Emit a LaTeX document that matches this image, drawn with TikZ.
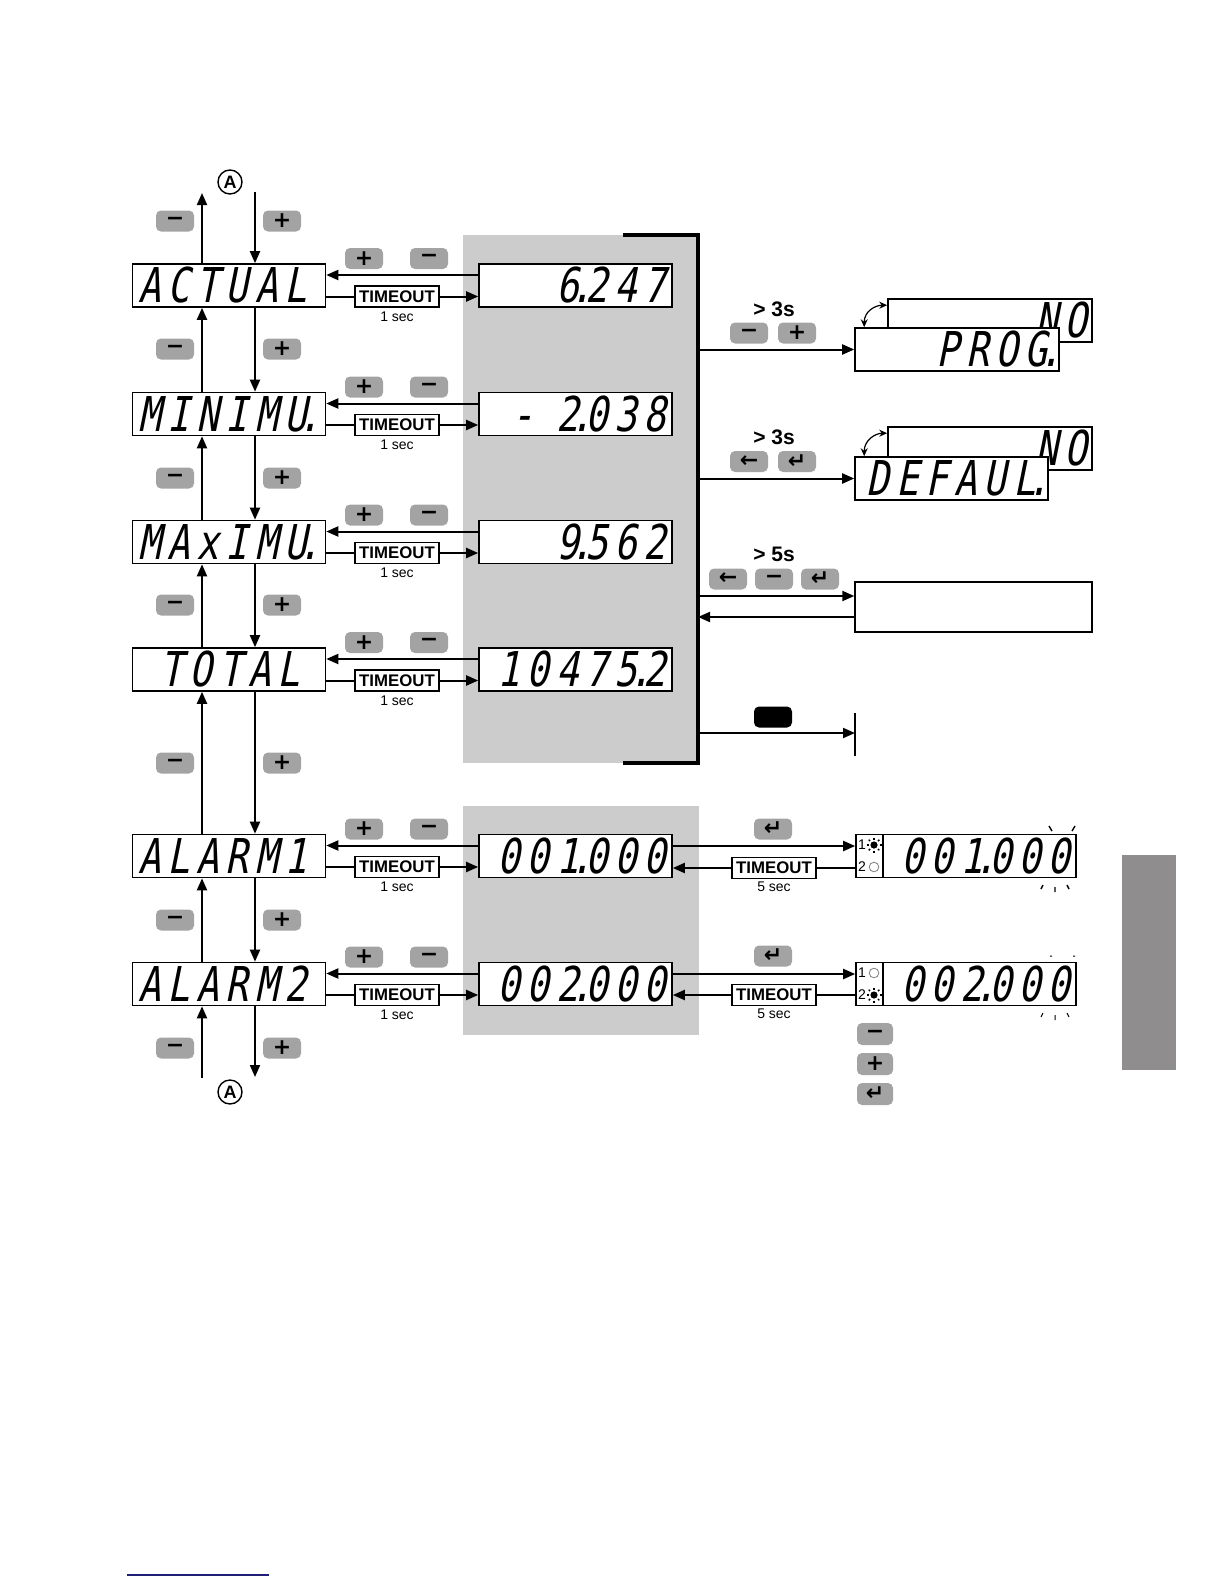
\documentclass[tikz,border=0pt]{standalone}
\usepackage{fontspec}
\setmainfont{Liberation Sans}
\newfontfamily\segfont[FakeSlant=0.2,FakeStretch=0.78,LetterSpace=14]{DejaVu Sans Mono}
\newfontfamily\keyfont{DejaVu Sans}
\usetikzlibrary{arrows.meta,calc,positioning}
\definecolor{panelgray}{RGB}{204,204,204}
\definecolor{keygray}{RGB}{163,163,163}
\definecolor{tabgray}{RGB}{143,141,142}
\definecolor{linkblue}{RGB}{30,30,120}
\newcommand{\sdot}{\makebox[3.4pt]{.}}

\begin{document}
\begin{tikzpicture}[x=0.5pt,y=-0.5pt,>={Triangle[length=6pt,width=5pt]},
  conn/.style={line width=1pt},
  disp/.style={draw,line width=0.8pt,fill=white,minimum width=96.5pt,minimum height=21.5pt,
    inner sep=0pt,font=\segfont\fontsize{24}{24}\selectfont},
  displeft/.style={disp,text width=91pt,align=left},
  dispright/.style={disp,text width=91pt,align=right},
  dispwide/.style={dispright,minimum width=102pt,text width=97pt},
  key/.style={fill=keygray,rounded corners=2.5pt,minimum width=19pt,minimum height=10.5pt,
    inner sep=0pt,font=\keyfont\bfseries\fontsize{11}{11}\selectfont},
  tmo/.style={draw,line width=0.7pt,fill=white,minimum width=42pt,minimum height=10.5pt,
    inner sep=0pt,font=\bfseries\fontsize{8.4}{8.4}\selectfont},
  secs/.style={font=\fontsize{7}{7}\selectfont,inner sep=0pt},
  hold/.style={font=\bfseries\fontsize{10.5}{10.5}\selectfont,inner sep=0pt},
  ledno/.style={font=\fontsize{7}{7}\selectfont,inner sep=0pt},
  circA/.style={draw,circle,line width=0.7pt,minimum size=12pt,inner sep=0pt,
    font=\bfseries\fontsize{9}{9}\selectfont}]
  \useasboundingbox (0,0) rectangle (1224,1584);

  % --- grey panels behind the value displays ---
  \fill[panelgray] (463,235) rectangle (698,763);
  \fill[panelgray] (463,806) rectangle (699,1035);
  \draw[line width=1.6pt] (623,235) -- (698,235) -- (698,763) -- (623,763);
  \coordinate (bar) at (698,0);
  \coordinate (upx) at (202,0);
  \coordinate (dnx) at (255,0);

  % --- one row per menu entry: name display, value display, timeout ---
  \foreach \nm/\y/\lt/\vt in {act/285.5/ACTUAL/{6\sdot247},
      min/414/{MINIMU\sdot}/{-\phantom{0}2\sdot038},
      max/542/{MAxIMU\sdot}/{9\sdot562},
      tot/669.5/{\phantom{0}TOTAL}/{10475\sdot2},
      al1/856/ALARM1/{001\sdot000},
      al2/984/ALARM2/{002\sdot000}} {
    \node[displeft] (L\nm) at (229,\y) {\lt};
    \node[dispright] (V\nm) at (575.5,\y) {\vt};
    \node[key] (P\nm) at (364,\y-27) {+};
    \node[key] (M\nm) at (429,\y-27) {−};
    \draw[conn,->] ($(V\nm.west)+(0,-10.5)$) -- ($(L\nm.east)+(0,-10.5)$);
    \node[tmo] (T\nm) at (397,\y+11) {TIMEOUT};
    \node[secs] (S\nm) at (397,\y+31) {1 sec};
    \draw[conn] ($(L\nm.east)+(0,11)$) -- (T\nm.west);
    \draw[conn,->] (T\nm.east) -- (T\nm.east -| V\nm.west);
  }

  % --- stepping up and down the list ---
  \foreach \a/\b/\m in {act/min/349,min/max/478,max/tot/605,tot/al1/763,al1/al2/920} {
    \draw[conn,->] (L\b.north -| upx) -- (L\a.south -| upx);
    \draw[conn,->] (L\a.south -| dnx) -- (L\b.north -| dnx);
    \node[key] (km\a) at (175,\m) {−};
    \node[key] (kp\a) at (282,\m) {+};
  }
  \node[circA] (Atop) at (230,182) {A};
  \coordinate (topup) at (202,193);
  \coordinate (topdn) at (255,192);
  \draw[conn,->] (Lact.north -| upx) -- (topup);
  \draw[conn,->] (topdn) -- (Lact.north -| dnx);
  \node[key] (kmtop) at (175,221) {−};
  \node[key] (kptop) at (282,221) {+};
  \node[circA] (Abot) at (230,1092) {A};
  \coordinate (botup) at (202,1078);
  \coordinate (botdn) at (255,1077);
  \draw[conn,->] (botup) -- (Lal2.south -| upx);
  \draw[conn,->] (Lal2.south -| dnx) -- (botdn);
  \node[key] (kmbot) at (175,1048) {−};
  \node[key] (kpbot) at (282,1048) {+};

  % --- programming entry ---
  \node[dispwide] (no1) at (990,320.5) {NO};
  \node[dispwide] (prog) at (957,349.5) {PROG\sdot};
  \draw[conn,->] (bar |- prog.west) -- (prog.west);
  \draw[<->,line width=0.6pt,>={Stealth[length=4pt,width=3.5pt]}]
    ($(prog.north west)+(10,0)$) .. controls +(0,-16) and +(-12,0) .. ($(no1.north west)+(0,7)$);
  \node[hold] (h3a) at (774,309) {> 3s};
  \node[key] (kpm) at (749,333) {−};
  \node[key] (kpp) at (797,333) {+};

  % --- factory defaults ---
  \node[dispwide] (no2) at (990,448.5) {NO};
  \node[dispright] (defa) at (951.5,478.5) {DEFAUL\sdot};
  \draw[conn,->] (bar |- defa.west) -- (defa.west);
  \draw[<->,line width=0.6pt,>={Stealth[length=4pt,width=3.5pt]}]
    ($(defa.north west)+(10,0)$) .. controls +(0,-16) and +(-12,0) .. ($(no2.north west)+(0,7)$);
  \node[hold] (h3b) at (774,437) {> 3s};
  \node[key] (kdl) at (749,461.5) {←};
  \node[key] (kde) at (797,461.5) {↵};

  % --- third branch, empty box ---
  \node[draw,line width=0.7pt,minimum width=118.5pt,minimum height=25pt] (rst) at (973.5,607) {};
  \coordinate (rin) at ($(rst.west)+(0,-11)$);
  \coordinate (rout) at ($(rst.west)+(0,10)$);
  \draw[conn,->] (bar |- rin) -- (rin);
  \draw[conn,->] (rout) -- (bar |- rout);
  \node[hold] (h5) at (774,554) {> 5s};
  \node[key] (krl) at (728,579) {←};
  \node[key] (krm) at (774,579) {−};
  \node[key] (kre) at (820,579) {↵};

  % --- black key, stop ---
  \node[key,fill=black] (kesc) at (773,717) {};
  \coordinate (stop) at (855,733);
  \draw[conn,->] (bar |- stop) -- (stop);
  \draw[line width=1pt] (855,713) -- (855,756);

  % --- alarm set points ---
  \node[disp,minimum width=13.5pt] (led1) at (869.5,856) {};
  \node[dispright] (set1) at (979.5,856) {001\sdot000};
  \node[disp,minimum width=13.5pt] (led2) at (869.5,984) {};
  \node[dispright] (set2) at (979.5,984) {002\sdot000};
  \node[ledno] (n1a) at (862,845) {1};
  \node[ledno] (n2a) at (862,867) {2};
  \node[ledno] (n1b) at (862,973) {1};
  \node[ledno] (n2b) at (862,995) {2};
  \fill (874,845) circle (1.8pt);
  \draw[gray,line width=0.4pt] (874,867) circle (2.4pt);
  \draw[gray,line width=0.4pt] (874,973) circle (2.4pt);
  \fill (874,995) circle (1.8pt);
  \foreach \a in {0,45,...,315} {
    \draw[line width=0.7pt] ($(874,845)+(\a:5.5)$) -- ($(874,845)+(\a:7.5)$);
    \draw[line width=0.7pt] ($(874,995)+(\a:5.5)$) -- ($(874,995)+(\a:7.5)$);
  }
  % blinking last digit
  \draw[line width=0.7pt] (1049,826) -- (1052,831) (1075,826) -- (1072,831)
    (1041,889) -- (1043,885) (1055,892) -- (1055,887) (1069,889) -- (1067,885);
  \draw[line width=0.5pt] (1050,956) -- (1052,956) (1073,956) -- (1075,956)
    (1041,1017) -- (1043,1013) (1055,1020) -- (1055,1015) (1069,1017) -- (1067,1013);

  \node[key] (ke1) at (773,829) {↵};
  \draw[conn,->] ($(Val1.east)+(0,-10)$) -- ($(led1.west)+(0,-10)$);
  \node[tmo] (Tr1) at (774,868) {TIMEOUT};
  \node[secs] (Sr1) at (774,887) {5 sec};
  \draw[conn] (led1.west |- Tr1) -- (Tr1.east);
  \draw[conn,->] (Tr1.west) -- (Tr1.west -| Val1.east);
  \node[key] (ke2) at (773,956) {↵};
  \draw[conn,->] ($(Val2.east)+(0,-10)$) -- ($(led2.west)+(0,-10)$);
  \node[tmo] (Tr2) at (774,995) {TIMEOUT};
  \node[secs] (Sr2) at (774,1014) {5 sec};
  \draw[conn] (led2.west |- Tr2) -- (Tr2.east);
  \draw[conn,->] (Tr2.west) -- (Tr2.west -| Val2.east);

  % --- key legend ---
  \node[key,minimum width=18pt,minimum height=11pt] (lgm) at (875,1034) {−};
  \node[key,minimum width=18pt,minimum height=11pt] (lgp) at (875,1064) {+};
  \node[key,minimum width=18pt,minimum height=11pt] (lge) at (875,1094) {↵};

  % --- page tab and footer rule ---
  \fill[tabgray] (1122,855) rectangle (1176,1070);
  \draw[linkblue,line width=0.7pt] (127,1575) -- (269,1575);
\end{tikzpicture}
\end{document}
